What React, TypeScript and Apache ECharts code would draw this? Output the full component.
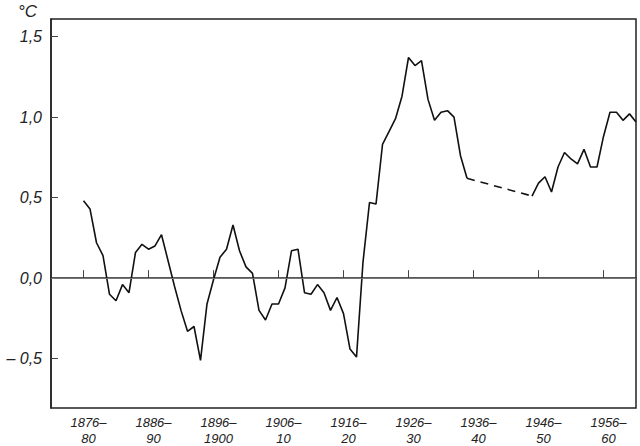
import React, { useEffect, useRef } from "react";
import * as echarts from "echarts";

// 5-year running means of temperature anomaly (°C), one value per central year
const startYear = 1878;
const values: (number | null)[] = [
  0.48, 0.43, 0.22, 0.14, -0.10, -0.14, -0.04, -0.09, 0.16, 0.21, // 1878-1887
  0.18, 0.20, 0.27, 0.11, -0.05, -0.20, -0.33, -0.30, -0.51, -0.16, // 1888-1897
  -0.01, 0.13, 0.18, 0.33, 0.17, 0.07, 0.03, -0.20, -0.26, -0.16, // 1898-1907
  -0.16, -0.06, 0.17, 0.18, -0.09, -0.10, -0.04, -0.09, -0.20, -0.12, // 1908-1917
  -0.22, -0.44, -0.49, 0.10, 0.47, 0.46, 0.83, 0.91, 0.99, 1.13, // 1918-1927
  1.37, 1.32, 1.35, 1.11, 0.98, 1.03, 1.04, 1.00, 0.76, 0.62, // 1928-1937
  null, null, null, null, null, null, null, null, null, // 1938-1946 (no data)
  0.51, 0.59, 0.63, 0.535, 0.69, 0.78, 0.74, 0.71, 0.80, 0.69, // 1947-1956
  0.69, 0.88, 1.03, 1.03, 0.98, 1.02, 0.97, // 1957-1963
];

const tickYears = [1878, 1888, 1898, 1908, 1918, 1928, 1938, 1948, 1958];
const tickLabels = [
  "1876–\n80",
  "1886–\n90",
  "1896–\n1900",
  "1906–\n10",
  "1916–\n20",
  "1926–\n30",
  "1936–\n40",
  "1946–\n50",
  "1956–\n60",
];
const yTicks = [-0.5, 0, 0.5, 1.0, 1.5];
const yTickLabels = ["– 0,5", "0,0", "0,5", "1,0", "1,5"];

const FONT = "Liberation Sans";

export default function App() {
  const ref = useRef<HTMLDivElement>(null);
  useEffect(() => {
    if (!ref.current) return;
    const chart = echarts.init(ref.current, null, { renderer: "svg" });
    const pairs = values.map((v, i) => [startYear + i, v]);
    // dashed bridge across the data gap
    let gapStart = -1;
    let gapEnd = -1;
    for (let i = 1; i < values.length; i++) {
      if (values[i] === null && values[i - 1] !== null) gapStart = i - 1;
      if (values[i] !== null && values[i - 1] === null) gapEnd = i;
    }
    const bridge =
      gapStart >= 0 && gapEnd >= 0
        ? [pairs[gapStart], pairs[gapEnd]]
        : [];

    chart.setOption({
      animation: false,
      backgroundColor: "#fff",
      grid: {
        left: 51,
        top: 19,
        right: 4,
        bottom: 38,
        show: true,
        borderColor: "#222",
        borderWidth: 1.5,
        backgroundColor: "transparent",
      },
      xAxis: {
        type: "value",
        min: 1873,
        max: 1963,
        splitLine: { show: false },
        axisLine: { show: true, lineStyle: { color: "#222", width: 1.5 } },
        axisTick: {
          show: true,
          inside: true,
          length: 8,
          customValues: tickYears,
          lineStyle: { color: "#444", width: 1 },
        },
        axisLabel: {
          customValues: tickYears,
          formatter: (v: number) => {
            const i = tickYears.indexOf(v);
            return i >= 0 ? tickLabels[i] : "";
          },
          fontFamily: FONT,
          fontStyle: "italic",
          fontSize: 13,
          color: "#222",
          lineHeight: 16,
          margin: 6,
          padding: [0, 0, 0, 10],
        },
      },
      yAxis: {
        type: "value",
        min: -0.806,
        max: 1.609,
        splitLine: { show: false },
        axisLine: { show: true, lineStyle: { color: "#222", width: 1.5 } },
        axisTick: {
          show: true,
          inside: true,
          length: 7,
          customValues: yTicks,
          lineStyle: { color: "#444", width: 1 },
        },
        axisLabel: {
          customValues: yTicks,
          formatter: (v: number) => {
            const i = yTicks.indexOf(v);
            return i >= 0 ? yTickLabels[i] : "";
          },
          fontFamily: FONT,
          fontStyle: "italic",
          fontSize: 16,
          color: "#222",
          margin: 9,
        },
      },
      graphic: [
        {
          type: "text",
          left: 18,
          top: 3,
          style: {
            text: "°C",
            fontFamily: FONT,
            fontStyle: "italic",
            fontSize: 17,
            fill: "#222",
          },
        },
      ],
      series: [
        {
          type: "line",
          data: pairs,
          symbol: "none",
          connectNulls: false,
          lineStyle: { color: "#111", width: 1.6 },
          markLine: {
            silent: true,
            symbol: ["none", "none"],
            label: { show: false },
            lineStyle: { color: "#777", width: 1, type: "solid" },
            data: [{ yAxis: 0 }],
          },
          z: 3,
        },
        {
          type: "line",
          data: bridge,
          symbol: "none",
          lineStyle: { color: "#111", width: 1.6, type: [8, 6] },
          z: 3,
        },
      ],
    });
    return () => chart.dispose();
  }, []);
  return (
    <div
      ref={ref}
      style={{ position: "fixed", left: 0, top: 0, width: 640, height: 446 }}
    />
  );
}
